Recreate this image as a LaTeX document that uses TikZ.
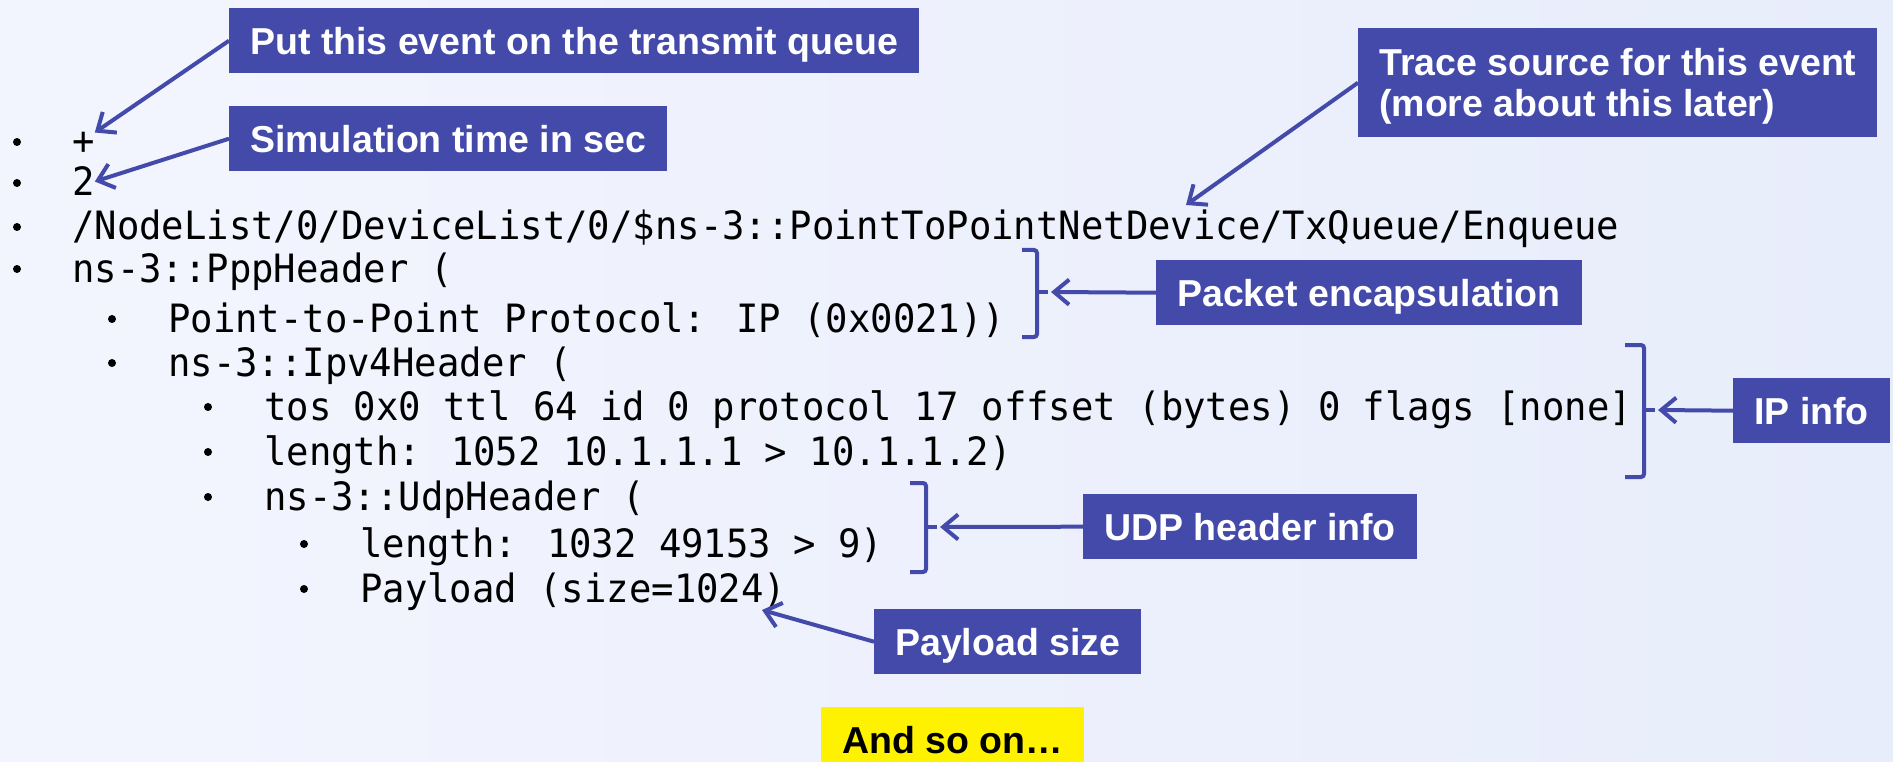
\documentclass[tikz,border=0pt]{standalone}
\usepackage{fontspec}
\usepackage{tikz}
\usetikzlibrary{arrows.meta}

\newfontfamily\notefont{Liberation Sans}
\newfontfamily\codefont{DejaVu Sans Mono}[FakeStretch=0.955]

\definecolor{notebg}{RGB}{67,74,169}
\definecolor{bgleft}{RGB}{243,245,254}
\definecolor{bgright}{RGB}{232,237,251}

\tikzset{
    note/.style={fill=notebg, text=white, anchor=north west,
        font=\notefont\bfseries\fontsize{37.5}{41}\selectfont,
        inner xsep=21pt, minimum height=65pt, text height=27pt, text depth=0pt},
    code/.style={font=\codefont\fontsize{39}{44}\selectfont, inner sep=0pt, anchor=base west},
    pointer/.style={draw=notebg, line width=4pt, -{Straight Barb[length=15pt,width=25pt]}},
    bracket/.style={draw=notebg, line width=4pt, rounded corners=3pt}
}

\begin{document}
\begin{tikzpicture}[x=1pt,y=-1pt]
            \useasboundingbox (0,0) rectangle (1893,762);
            \shade[left color=bgleft,right color=bgright] (0,0) rectangle (1893,762);

            % trace line, one field per row
            \node[code] (plus) at (72,155) {+};
            \node[code] (two) at (72,196) {2};
            \node[code] (srcpath) at (72,240) {/NodeList/0/DeviceList/0/\$ns-3::PointToPointNetDevice/TxQueue/Enqueue};
            \node[code] (ppp) at (72,282) {ns-3::PppHeader (};
            \node[code] (proto) at (168,332) {Point-to-Point Protocol: IP (0x0021))};
            \node[code] (ipv4) at (168,376) {ns-3::Ipv4Header (};
            \node[code] (tos) at (264,420) {tos 0x0 ttl 64 id 0 protocol 17 offset (bytes) 0 flags [none]};
            \node[code] (iplen) at (264,465) {length: 1052 10.1.1.1 > 10.1.1.2)};
            \node[code] (udph) at (264,510) {ns-3::UdpHeader (};
            \node[code] (udplen) at (360,557) {length: 1032 49153 > 9)};
            \node[code] (payload) at (360,602) {Payload (size=1024)};

            \foreach \x/\y in {17/155,17/196,17/240,17/282,112/332,112/376,208/420,208/465,208/510,304/557,304/602}
                \fill (\x,\y-13) circle (4pt);

            % callouts
            \node[note] (putq) at (229,8) {Put this event on the transmit queue};
            \node[note] (simtime) at (229,106) {Simulation time in sec};
            \node[note, align=left, minimum height=109pt, text height=68pt] (trace) at (1358,28)
                {Trace source for this event\\(more about this later)};
            \node[note] (encap) at (1156,260) {Packet encapsulation};
            \node[note] (ipinfo) at (1733,378) {IP info};
            \node[note] (udpinfo) at (1083,494) {UDP header info};
            \node[note] (size) at (874,609) {Payload size};
            \node[note, fill=yellow, text=black] (more) at (821,707) {And so on\ldots};

            % brackets
            \draw[bracket] (1022,250) -- (1037,250) -- (1037,337) -- (1022,337);
            \draw[bracket] (1037,292) -- (1048,292);
            \draw[bracket] (1625,345) -- (1644,345) -- (1644,477) -- (1625,477);
            \draw[bracket] (1644,410) -- (1655,410);
            \draw[bracket] (910,483) -- (926,483) -- (926,572) -- (910,572);
            \draw[bracket] (926,527) -- (937,527);

            \coordinate (encapend) at (1051,292);
            \coordinate (ipend) at (1658,410);
            \coordinate (udpend) at (940,527);
            \coordinate (traceend) at (1186,205);
            \coordinate (sizeend) at (762,610);

            \draw[pointer] (putq.west) -- (plus.north east);
            \draw[pointer] (simtime.west) -- (two.east);
            \draw[pointer] (trace.west) -- (traceend);
            \draw[pointer] (encap.west) -- (encapend);
            \draw[pointer] (ipinfo.west) -- (ipend);
            \draw[pointer] (udpinfo.west) -- (udpend);
            \draw[pointer] (size.west) -- (sizeend);
\end{tikzpicture}
\end{document}
